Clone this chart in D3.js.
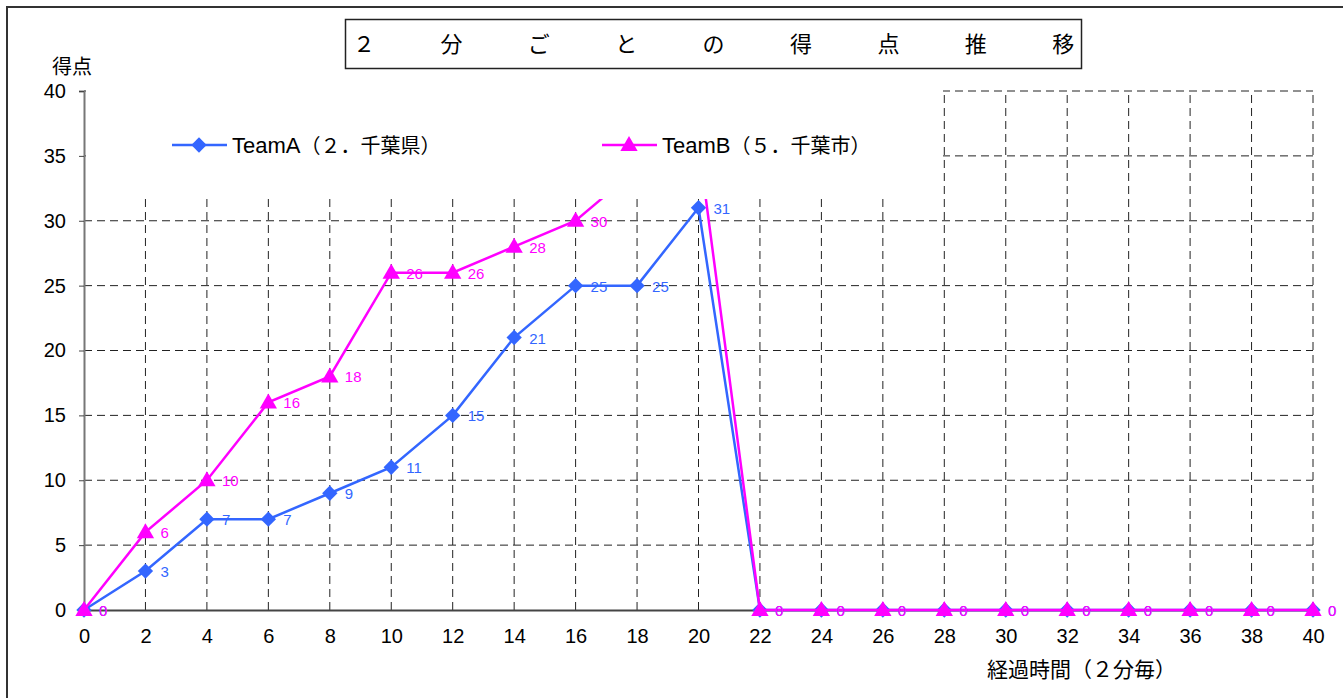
<!DOCTYPE html>
<html>
<head>
<meta charset="utf-8">
<script src="https://cdn.jsdelivr.net/npm/d3@7"></script>
<style>
  body { margin: 0; background: #fff; }
  svg { display: block; }
</style>
</head>
<body>
<svg id="chart"></svg>
<script>
const minutes = [0, 2, 4, 6, 8, 10, 12, 14, 16, 18, 20, 22, 24, 26, 28, 30, 32, 34, 36, 38, 40];
const teamA = [0, 3, 7, 7, 9, 11, 15, 21, 25, 25, 31, 0, 0, 0, 0, 0, 0, 0, 0, 0, 0];
const teamB = [0, 6, 10, 16, 18, 26, 26, 28, 30, 34, 36, 0, 0, 0, 0, 0, 0, 0, 0, 0, 0];
const yTicks = [0, 5, 10, 15, 20, 25, 30, 35, 40];
const seriesNames = ['TeamA（２．千葉県）', 'TeamB（５．千葉市）'];
const titleChars = ['２', '分', 'ご', 'と', 'の', '得', '点', '推', '移'];

const width = 1343;
const height = 698;
const jp = '"Noto Sans CJK JP", sans-serif';
const narrow = '"Liberation Sans Narrow", "Liberation Sans", sans-serif';

const svg = d3.select('#chart')
    .attr('width', width)
    .attr('height', height);

// outer frame
svg.append('rect')
    .attr('x', 7).attr('y', 7)
    .attr('width', 1400).attr('height', 800)
    .attr('fill', 'none')
    .attr('stroke', '#333')
    .attr('stroke-width', 2);

const x = d3.scaleLinear().domain([0, 40]).range([84, 1313]);
const y = d3.scaleLinear().domain([0, 40]).range([610, 91]);

// legend box area (opaque white, drawn over the plot)
const legendBox = { x: 86, y: 89, w: 857, h: 110 };

// gridlines
svg.append('g')
    .selectAll('line')
    .data(minutes.slice(1))
    .join('line')
    .attr('x1', d => x(d)).attr('x2', d => x(d))
    .attr('y1', y(0)).attr('y2', y(40))
    .attr('stroke', '#222')
    .attr('stroke-width', 1)
    .attr('stroke-dasharray', '8,5');

svg.append('g')
    .selectAll('line')
    .data(yTicks.slice(1))
    .join('line')
    .attr('x1', x(0)).attr('x2', x(40))
    .attr('y1', d => y(d)).attr('y2', d => y(d))
    .attr('stroke', '#222')
    .attr('stroke-width', 1)
    .attr('stroke-dasharray', '8,5');

// axes
const yAxis = d3.axisLeft(y).tickValues(yTicks).tickSize(5).tickPadding(13);
const gy = svg.append('g')
    .attr('transform', `translate(${x(0)},0)`)
    .call(yAxis);
gy.select('.domain').attr('stroke', '#777').attr('stroke-width', 2);
gy.selectAll('.tick line').attr('stroke', '#444');
gy.selectAll('.tick text')
    .attr('font-family', narrow)
    .attr('font-size', 20)
    .attr('fill', '#000');

const xAxis = d3.axisBottom(x).tickValues(minutes).tickSize(0).tickPadding(19);
const gx = svg.append('g')
    .attr('transform', `translate(0,${y(0)})`)
    .call(xAxis);
gx.select('.domain').attr('stroke', '#444').attr('stroke-width', 2);
gx.selectAll('.tick text')
    .attr('font-family', narrow)
    .attr('font-size', 20)
    .attr('fill', '#000');

// series
const colors = ['#3366ff', '#ff00ff'];
const line = d3.line().x((d, i) => x(minutes[i])).y(d => y(d));
const diamond = d3.symbol().type(d3.symbolDiamond2).size(150);
const triangle = d3.symbol().type(d3.symbolTriangle).size(130);

[teamA, teamB].forEach((vals, s) => {
  svg.append('path')
      .datum(vals)
      .attr('d', line)
      .attr('fill', 'none')
      .attr('stroke', colors[s])
      .attr('stroke-width', 2.5);
  svg.append('g')
      .selectAll('path')
      .data(vals)
      .join('path')
      .attr('d', s === 0 ? diamond : triangle)
      .attr('transform', (d, i) => `translate(${x(minutes[i])},${y(d) + (s === 1 ? 1 : 0)})`)
      .attr('fill', colors[s]);
});

// data labels (those that fall under the legend box are not visible)
[teamA, teamB].forEach((vals, s) => {
  const pts = vals.map((v, i) => ({ v, px: x(minutes[i]) + 15, py: y(v) + 6 }))
      .filter(p => !(p.px > legendBox.x && p.px < legendBox.x + legendBox.w &&
                     p.py - 12 < legendBox.y + legendBox.h));
  svg.append('g')
      .selectAll('text')
      .data(pts)
      .join('text')
      .attr('x', d => d.px)
      .attr('y', d => d.py)
      .attr('font-family', narrow)
      .attr('font-size', 15)
      .attr('fill', colors[s])
      .text(d => d.v);
});

svg.append('rect')
    .attr('x', legendBox.x).attr('y', legendBox.y)
    .attr('width', legendBox.w).attr('height', legendBox.h)
    .attr('fill', '#fff');

const legendX = [172, 602];
seriesNames.forEach((name, s) => {
  const g = svg.append('g').attr('transform', `translate(${legendX[s]},145)`);
  g.append('line')
      .attr('x1', 0).attr('x2', 55)
      .attr('stroke', colors[s])
      .attr('stroke-width', 2.5);
  g.append('path')
      .attr('d', s === 0 ? diamond : triangle)
      .attr('transform', `translate(27,${s === 1 ? 1 : 0})`)
      .attr('fill', colors[s]);
  const t = g.append('text')
      .attr('x', 60)
      .attr('y', 8)
      .attr('fill', '#000');
  t.append('tspan')
      .attr('font-family', narrow)
      .attr('font-size', 22)
      .text(name.slice(0, 5));
  t.append('tspan')
      .attr('font-family', jp)
      .attr('font-size', 20)
      .text(name.slice(5));
});

// title box
svg.append('rect')
    .attr('x', 345.5).attr('y', 19.5)
    .attr('width', 736).attr('height', 49)
    .attr('fill', '#fff')
    .attr('stroke', '#222')
    .attr('stroke-width', 1.5);

svg.append('g')
    .selectAll('text')
    .data(titleChars)
    .join('text')
    .attr('x', (d, i) => 364 + i * 87.4)
    .attr('y', 52)
    .attr('text-anchor', 'middle')
    .attr('font-family', jp)
    .attr('font-size', 22)
    .attr('fill', '#000')
    .text(d => d);

// axis titles
svg.append('text')
    .attr('x', 52).attr('y', 74)
    .attr('font-family', jp)
    .attr('font-size', 20)
    .attr('fill', '#000')
    .text('得点');

svg.append('text')
    .attr('x', 987).attr('y', 677)
    .attr('font-family', jp)
    .attr('font-size', 21)
    .attr('fill', '#000')
    .text('経過時間（２分毎）');
</script>
</body>
</html>
